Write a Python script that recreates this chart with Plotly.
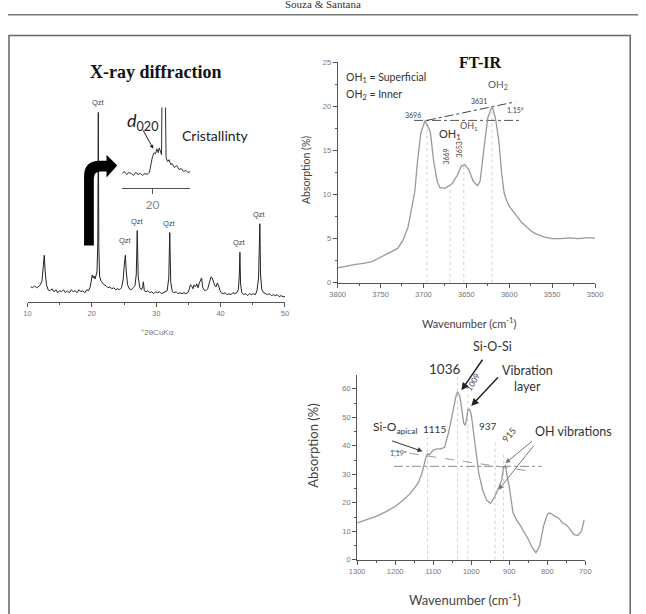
import plotly.graph_objects as go

W, H = 646, 614
def PX(px): return px / W
def PY(py): return 1 - py / H

# ---------------- data ----------------
# X-ray diffraction pattern (2theta, arbitrary intensity)
xrd_2theta = [10.5, 10.8, 11.1, 11.4, 11.7, 12.0, 12.25, 12.45, 12.6, 12.75, 12.95,
              13.2, 13.5, 13.8, 14.1, 14.4, 14.7, 15.0, 15.3, 15.6, 15.9,
              16.2, 16.5, 16.8, 17.1, 17.4, 17.7, 18.0, 18.3, 18.6, 18.9, 19.2, 19.5,
              19.75, 19.9, 20.05, 20.2, 20.35, 20.5, 20.65, 20.8, 20.92, 21.0, 21.08, 21.2, 21.4, 21.6,
              21.9, 22.2, 22.5, 22.8, 23.1, 23.4, 23.7, 24.0, 24.3, 24.6, 24.85, 25.05, 25.2, 25.35, 25.55,
              25.8, 26.1, 26.4, 26.7, 26.9, 27.05, 27.2, 27.45, 27.7, 27.9, 28.0, 28.15,
              28.4, 28.7, 29.0, 29.3, 29.6, 29.9, 30.2, 30.5, 30.8, 31.1, 31.4, 31.7, 31.95, 32.1, 32.25,
              32.5, 32.8, 33.1, 33.4, 33.7, 34.0, 34.3, 34.6, 34.9, 35.1, 35.3, 35.5, 35.7, 35.9,
              36.1, 36.3, 36.5, 36.7, 36.9, 37.05, 37.2, 37.4, 37.7, 38.0, 38.25, 38.5, 38.7, 38.9,
              39.1, 39.3, 39.5, 39.7, 39.9, 40.1, 40.4, 40.7, 41.0, 41.3, 41.6, 41.9, 42.2, 42.5,
              42.75, 42.9, 43.0, 43.1, 43.3, 43.6, 43.9, 44.2, 44.5, 44.8, 45.1, 45.4, 45.65,
              45.9, 46.0, 46.1, 46.2, 46.4, 46.7, 47.0, 47.3, 47.6, 47.9, 48.2, 48.5, 48.8, 49.1, 49.4, 49.7, 50.0]
xrd_intensity = [15, 14, 16, 14, 15, 17, 21, 33, 47, 30, 17,
                 12, 11, 13, 10, 12, 9, 11, 10, 12, 9,
                 11, 9, 12, 10, 11, 9, 12, 10, 11, 9, 12, 11,
                 15, 23, 27, 24, 26, 23, 27, 30, 60, 192, 55, 26, 21, 19,
                 17, 16, 14, 15, 13, 14, 12, 13, 12, 14, 22, 38, 47, 30, 17,
                 13, 12, 14, 16, 28, 72, 25, 14, 12, 15, 20, 11,
                 10, 11, 9, 10, 8, 10, 9, 10, 8, 9, 10, 11, 24, 70, 20,
                 10, 9, 10, 8, 9, 8, 9, 8, 9, 12, 17, 16, 13, 17,
                 15, 18, 14, 19, 22, 24, 15, 12, 11, 13, 19, 25, 24, 19,
                 16, 15, 19, 16, 11, 9, 8, 9, 7, 8, 7, 9, 8, 9,
                 12, 25, 50, 18, 9, 7, 8, 6, 8, 7, 8, 7, 11,
                 24, 45, 79, 28, 12, 9, 8, 7, 8, 6, 7, 6, 7, 5, 6, 5, 5]
qzt_pos = [21.0, 25.2, 27.05, 32.1, 43.0, 46.1]
qzt_int = [192, 52, 72, 70, 50, 79]
qzt_label = ["Qzt", "Qzt", "Qzt", "Qzt", "Qzt", "Qzt"]

# Inset: crystallinity region
inset_2theta = [18.0, 18.15, 18.3, 18.45, 18.6, 18.75, 18.9, 19.05, 19.2, 19.35, 19.5, 19.65, 19.8,
                19.9, 20.0, 20.1, 20.2, 20.3, 20.38, 20.45, 20.52, 20.6, 20.64, 20.83, 20.9,
                21.0, 21.1, 21.2, 21.3, 21.45, 21.6, 21.75, 21.9, 22.05, 22.2, 22.35, 22.5]
inset_intensity = [15, 17, 14, 16, 15, 13, 16, 14, 15, 13, 15, 14, 16,
                   24, 32, 36, 35, 40, 36, 41, 37, 34, 120, 120, 31,
                   27, 29, 24, 25, 21, 23, 19, 20, 17, 18, 16, 17]
inset_tick = [20]

# FT-IR, OH stretching region
ir_oh_wn = [3800, 3790, 3779, 3770, 3760, 3750, 3737, 3730, 3724, 3718, 3715, 3710, 3707, 3703,
            3698, 3692, 3688, 3684, 3681, 3675, 3667, 3661, 3656, 3652, 3647, 3642, 3637, 3634,
            3630, 3625, 3620, 3616, 3612, 3609, 3606, 3603, 3600, 3595, 3590, 3585, 3580, 3575,
            3570, 3560, 3550, 3540, 3530, 3520, 3510, 3500]
ir_oh_abs = [1.7, 1.9, 2.1, 2.2, 2.4, 2.9, 3.5, 3.9, 4.8, 6.3, 7.8, 10.4, 13.7, 17.0,
             18.4, 17.1, 13.7, 11.5, 10.8, 10.7, 11.2, 12.1, 13.2, 13.4, 12.8, 11.5, 11.0, 11.5,
             14.8, 18.7, 20.0, 18.6, 16.0, 12.5, 10.2, 9.3, 8.7, 8.0, 7.4, 6.8, 6.3, 5.9,
             5.6, 5.2, 5.0, 5.0, 5.1, 5.0, 5.1, 5.1]
ir_oh_mark_wn = [3696, 3669, 3653, 3620]
ir_oh_mark_top = [18.4, 11.0, 13.4, 20.0]
ir_oh_hline_wn = [3711, 3585]
ir_oh_hline_abs = [18.4, 18.4]
ir_oh_slope_wn = [3696, 3593]
ir_oh_slope_abs = [18.4, 20.5]

# FT-IR, Si-O region
ir_si_wn = [1300, 1275, 1250, 1225, 1200, 1180, 1160, 1140, 1130, 1120, 1115, 1110, 1100,
            1090, 1080, 1070, 1065, 1060, 1055, 1050, 1045, 1040, 1036, 1030, 1025, 1020, 1016,
            1012, 1009, 1005, 1000, 995, 990, 980, 970, 960, 950, 940, 930, 920, 915, 910, 905,
            900, 890, 880, 870, 860, 850, 840, 830, 820, 810, 800, 795, 790, 780, 770, 760,
            750, 740, 730, 720, 710, 703]
ir_si_abs = [12.9, 14.0, 15.2, 16.8, 18.7, 20.8, 23.3, 26.8, 30.2, 35.5, 37.2, 36.8, 38.5,
             38.9, 38.9, 39.5, 41.8, 44.5, 47.5, 51.0, 54.4, 57.5, 59.0, 57.4, 53.0, 48.1, 47.2,
             49.5, 52.7, 52.9, 51.0, 45.5, 39.4, 30.2, 24.5, 21.0, 19.8, 21.6, 24.7, 27.9, 32.5, 33.0, 29.0,
             25.6, 16.4, 13.8, 11.8, 9.5, 7.2, 4.3, 2.4, 4.8, 11.8, 15.8, 16.4, 16.2, 15.2, 14.6, 12.9,
             12.3, 10.4, 8.9, 8.5, 10.0, 14.1]
ir_si_mark_wn = [1115, 1036, 1009, 937, 915]
ir_si_mark_top = [43.0, 64.0, 59.0, 41.0, 37.5]
ir_si_hline_wn = [1203, 815]
ir_si_hline_abs = [32.8, 32.8]
ir_si_slope_wn = [1209, 846]
ir_si_slope_abs = [38.3, 31.1]

# ---------------- figure ----------------
fig = go.Figure()

def vlines(pos, tops):
    xs, ys = [], []
    for p, t in zip(pos, tops):
        xs += [p, p, None]
        ys += [0, t, None]
    return xs, ys

curve_grey = "#999999"
# XRD main
fig.add_trace(go.Scatter(x=xrd_2theta, y=xrd_intensity, mode="lines",
                         line=dict(color="#222", width=1), xaxis="x", yaxis="y"))
# XRD inset
fig.add_trace(go.Scatter(x=inset_2theta, y=inset_intensity, mode="lines",
                         line=dict(color="#333", width=1), xaxis="x2", yaxis="y2"))
# FT-IR OH
vx, vy = vlines(ir_oh_mark_wn, ir_oh_mark_top)
fig.add_trace(go.Scatter(x=vx, y=vy, mode="lines", line=dict(color="#d0d0d0", width=1, dash="dot"),
                         xaxis="x3", yaxis="y3"))
fig.add_trace(go.Scatter(x=ir_oh_hline_wn, y=ir_oh_hline_abs, mode="lines",
                         line=dict(color="#555", width=1, dash="dashdot"), xaxis="x3", yaxis="y3"))
fig.add_trace(go.Scatter(x=ir_oh_slope_wn, y=ir_oh_slope_abs, mode="lines",
                         line=dict(color="#444", width=1, dash="dashdot"), xaxis="x3", yaxis="y3"))
fig.add_trace(go.Scatter(x=ir_oh_wn, y=ir_oh_abs, mode="lines", line=dict(color=curve_grey, width=1.3),
                         xaxis="x3", yaxis="y3"))
# FT-IR Si-O
vx, vy = vlines(ir_si_mark_wn, ir_si_mark_top)
fig.add_trace(go.Scatter(x=vx, y=vy, mode="lines", line=dict(color="#d0d0d0", width=1, dash="dot"),
                         xaxis="x4", yaxis="y4"))
fig.add_trace(go.Scatter(x=ir_si_hline_wn, y=ir_si_hline_abs, mode="lines",
                         line=dict(color="#888", width=1, dash="dashdot"), xaxis="x4", yaxis="y4"))
fig.add_trace(go.Scatter(x=ir_si_slope_wn, y=ir_si_slope_abs, mode="lines",
                         line=dict(color="#999", width=1, dash="dash"), xaxis="x4", yaxis="y4"))
fig.add_trace(go.Scatter(x=ir_si_wn, y=ir_si_abs, mode="lines", line=dict(color=curve_grey, width=1.3),
                         xaxis="x4", yaxis="y4"))

tickf = dict(family="Liberation Sans, Arial", size=7.5, color="#777")
def xax(d0, d1, rng, dtick, mdtick, anchor, **kw):
    a = dict(domain=[PX(d0), PX(d1)], range=rng, dtick=dtick, showline=True, linecolor="#555",
             linewidth=1, ticks="outside", ticklen=4, tickcolor="#555", tickfont=tickf,
             showgrid=False, zeroline=False, anchor=anchor,
             minor=dict(ticks="outside", ticklen=2, dtick=mdtick, tickcolor="#555", showgrid=False))
    a.update(kw)
    return a

sans = "Lato, Open Sans, sans-serif"
fig.update_layout(
    width=W, height=H, margin=dict(l=0, r=0, t=0, b=0),
    paper_bgcolor="white", plot_bgcolor="rgba(0,0,0,0)", showlegend=False,
    xaxis=xax(20, 284, [10, 50], 10, 5, "y", tick0=10),
    yaxis=dict(domain=[PY(302), PY(100)], range=[0, 202], visible=False, anchor="x"),
    xaxis2=xax(117, 187, [18, 22.5], None, None, "y2", tickvals=inset_tick,
               ticktext=[str(v) for v in inset_tick], tickfont=dict(family=sans, size=12, color="#888"),
               ticklen=5, minor=dict(ticks="")),
    yaxis2=dict(domain=[PY(187), PY(105)], range=[0, 82], visible=False, anchor="x2"),
    xaxis3=xax(338, 602, [3800, 3500], 50, 25, "y3"),
    yaxis3=dict(domain=[PY(283), PY(59)], range=[0, 25], dtick=5, showline=True, linecolor="#555",
                linewidth=1, ticks="outside", ticklen=4, tickcolor="#555", tickfont=tickf,
                showgrid=False, zeroline=False, anchor="x3",
                minor=dict(ticks="outside", ticklen=2, dtick=2.5, tickcolor="#555", showgrid=False)),
    xaxis4=xax(358, 592, [1300, 700], 100, 50, "y4"),
    yaxis4=dict(domain=[PY(564), PY(377)], range=[0, 64.7], dtick=10, showline=True, linecolor="#555",
                linewidth=1, ticks="outside", ticklen=4, tickcolor="#555", tickfont=tickf,
                showgrid=False, zeroline=False, anchor="x4",
                minor=dict(ticks="outside", ticklen=2, dtick=5, tickcolor="#555", showgrid=False)),
)

ann = []
def txt(s, px, py, size, color="#333", family=sans, angle=0, xa="center", ya="middle"):
    ann.append(dict(text=s, x=PX(px), y=PY(py), xref="paper", yref="paper", showarrow=False,
                    font=dict(size=size, color=color, family=family), textangle=angle,
                    xanchor=xa, yanchor=ya))
def arrow(x0, y0, x1, y1, color="#222", width=1.4, head=2, size=1):
    ann.append(dict(text="", x=PX(x1), y=PY(y1), xref="paper", yref="paper", showarrow=True,
                    ax=x0 - x1, ay=y0 - y1, axref="pixel", ayref="pixel", arrowhead=head,
                    arrowsize=size, arrowwidth=width, arrowcolor=color, standoff=0))

serif = "Liberation Serif, Times New Roman, serif"
txt("Souza &amp; Santana", 323, 8, 11, "#333", serif, ya="bottom")
txt("<b>X-ray diffraction</b>", 151, 69, 18, "#111", serif)
txt("Cristallinty", 176, 133, 14, "#222", xa="left")
txt("<i>d</i><sub>020</sub>", 120, 119, 18, "#222", xa="left")
arrow(138, 127, 149, 147, "#222", 1, 2, 0.8)
txt("°2θCuKα", 153, 333, 8, "#777", "Liberation Sans, Arial")
for p, v, s in zip(qzt_pos, qzt_int, qzt_label):
    ann.append(dict(text=s, x=p, y=v + 3, xref="x", yref="y", showarrow=False, yanchor="bottom",
                    font=dict(size=7.5, color="#444", family="Liberation Sans, Arial")))

# FT-IR upper
txt("<b>FT-IR</b>", 485, 59, 16, "#111", serif)
txt("OH<sub>1</sub> = Superficial", 345, 75, 10.5, "#333", xa="left")
txt("OH<sub>2</sub> = Inner", 345, 92, 10.5, "#333", xa="left")
txt("3696", 415, 113, 7, "#444")
txt("3631", 483, 98, 7, "#444")
txt("1,15°", 520, 108, 7, "#444")
txt("OH<sub>2</sub>", 502, 82, 10, "#555")
txt("OH<sub>1</sub>", 453, 132, 11, "#333")
txt("OH<sub>1</sub>", 473, 124, 9, "#555")
txt("3669", 449, 155, 7, "#444", angle=-90)
txt("3653", 462, 148, 7, "#444", angle=-90)
txt("Absorption (%)", 305, 168, 10.5, "#444", angle=-90)
txt("Wavenumber (cm<sup>-1</sup>)", 473, 323, 11, "#444")

# FT-IR lower
txt("Si-O-Si", 497, 348, 12.5, "#333")
txt("1036", 448, 370, 13.5, "#333")
txt("1009", 477, 384, 8, "#444", angle=-60)
txt("Vibration", 533, 372, 12.5, "#333")
txt("layer", 533, 388, 12.5, "#333")
txt("Si-O<sub>apical</sub>", 372, 430, 12, "#333", xa="left")
txt("1115", 437, 431, 10, "#333")
txt("937", 492, 428, 10, "#333")
txt("915", 514, 437, 9, "#444", angle=-50)
txt("OH vibrations", 580, 434, 12.5, "#333")
txt("1,19º", 400, 456, 7, "#555")
txt("Absorption (%)", 313, 448, 13, "#444", angle=-90)
txt("Wavenumber (cm<sup>-1</sup>)", 469, 604, 13, "#444")
arrow(487, 360, 465, 392, "#222", 1.5, 2, 1)
arrow(503, 378, 475, 408, "#222", 1.5, 2, 1)
arrow(393, 443, 425, 454, "#333", 1, 2, 1)
arrow(538, 443, 510, 466, "#777", 1, 2, 1)
arrow(539, 448, 503, 493, "#777", 1, 2, 1)

fig.update_layout(annotations=ann)

def path(cmds):
    out = []
    for c in cmds:
        op, pts = c[0], c[1:]
        coords = " ".join(f"{PX(pts[i]):.5f},{PY(pts[i+1]):.5f}" for i in range(0, len(pts), 2))
        out.append(f"{op} {coords}" if coords else op)
    return " ".join(out)

big_arrow = path([("M", 78, 245), ("L", 78, 175), ("Q", 78, 159, 94, 159), ("L", 101, 159),
                  ("L", 101, 153), ("L", 112, 164), ("L", 101, 176), ("L", 101, 170),
                  ("L", 95, 170), ("Q", 88, 170, 88, 177), ("L", 88, 245), ("Z",)])

fig.update_layout(shapes=[
    dict(type="line", xref="paper", yref="paper", x0=0, x1=1, y0=PY(11), y1=PY(11),
         line=dict(color="#777", width=1.5)),
    dict(type="rect", xref="paper", yref="paper", x0=PX(1), x1=PX(638), y0=PY(650), y1=PY(32),
         line=dict(color="#666", width=1.5)),
    dict(type="path", xref="paper", yref="paper", path=big_arrow, fillcolor="#000",
         line=dict(color="#000", width=0)),
])

fig.write_html("out.html")
